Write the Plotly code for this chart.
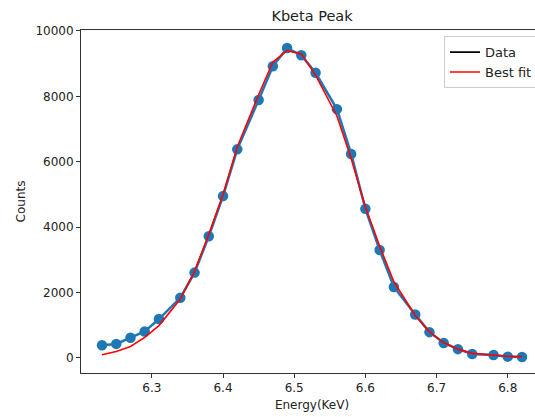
import plotly.graph_objects as go

energy = [6.23, 6.25, 6.27, 6.29, 6.31, 6.34, 6.36, 6.38, 6.40, 6.42,
          6.45, 6.47, 6.49, 6.51, 6.53, 6.56, 6.58, 6.60, 6.62, 6.64,
          6.67, 6.69, 6.71, 6.73, 6.75, 6.78, 6.80, 6.82]
counts = [390, 430, 620, 810, 1190, 1840, 2610, 3720, 4950, 6380,
          7890, 8920, 9480, 9260, 8720, 7610, 6240, 4560, 3300, 2170,
          1330, 790, 460, 270, 120, 90, 40, 30]
# Best fit curve evaluated at the same energies
fit = [100, 200, 350, 630, 990, 1800, 2650, 3780, 5000, 6450,
       8050, 9050, 9400, 9300, 8650, 7400, 6100, 4620, 3420, 2330,
       1300, 800, 470, 270, 140, 90, 50, 40]

y_ticks = [0, 2000, 4000, 6000, 8000, 10000]
x_ticks = [6.3, 6.4, 6.5, 6.6, 6.7, 6.8]

font = "DejaVu Sans"

fig = go.Figure()

# blue data line with markers (legend shows a black line, like the original)
fig.add_trace(go.Scatter(
    x=energy, y=counts, mode="lines+markers",
    line=dict(color="#1f77b4", width=2.5),
    marker=dict(color="#1f77b4", size=10.5),
    showlegend=False,
))
fig.add_trace(go.Scatter(
    x=energy, y=fit, mode="lines",
    line=dict(color="red", width=1.6),
    name="Best fit", showlegend=False,
))
# legend-only entries
fig.add_trace(go.Scatter(
    x=[None], y=[None], mode="lines",
    line=dict(color="black", width=1.6), name="Data",
))
fig.add_trace(go.Scatter(
    x=[None], y=[None], mode="lines",
    line=dict(color="red", width=1.6), name="Best fit",
))

# the axes run a little past the right edge of the window, as in the original
fig.update_layout(
    width=543, height=417,
    margin=dict(l=81, r=0, t=30, b=44, autoexpand=False),
    paper_bgcolor="white", plot_bgcolor="white",
    font=dict(family=font, size=12, color="#222222"),
    title=dict(text="Kbeta Peak", x=0.5, xref="paper", xanchor="center",
               y=1, yref="paper", yanchor="bottom", pad=dict(b=9),
               font=dict(size=14.5)),
    legend=dict(x=(444 - 81) / 462, xanchor="left", y=0.982, yanchor="top",
                bordercolor="#cccccc", borderwidth=1, bgcolor="white",
                font=dict(size=13), itemwidth=30, tracegroupgap=0),
    showlegend=True,
)

fig.update_xaxes(
    range=[6.2005, 6.8495], automargin=False,
    tickvals=x_ticks, ticktext=[f"{v:.1f}" for v in x_ticks],
    ticks="outside", ticklen=4, tickcolor="#333333",
    showline=True, linecolor="#333333", linewidth=1, mirror=True,
    showgrid=False, zeroline=False,
    title=dict(text="Energy(KeV)", standoff=6, font=dict(size=12)),
)
fig.update_yaxes(
    range=[-460, 10030], automargin=False,
    tickvals=y_ticks, ticktext=[str(v) for v in y_ticks],
    ticks="outside", ticklen=4, tickcolor="#333333",
    showline=True, linecolor="#333333", linewidth=1,
    showgrid=False, zeroline=False,
    title=dict(text="Counts", standoff=7, font=dict(size=12)),
)

fig.write_html(
    "out.html",
    config={"displayModeBar": False},
    post_script="document.body.style.margin='0';document.body.style.overflow='hidden';",
)
